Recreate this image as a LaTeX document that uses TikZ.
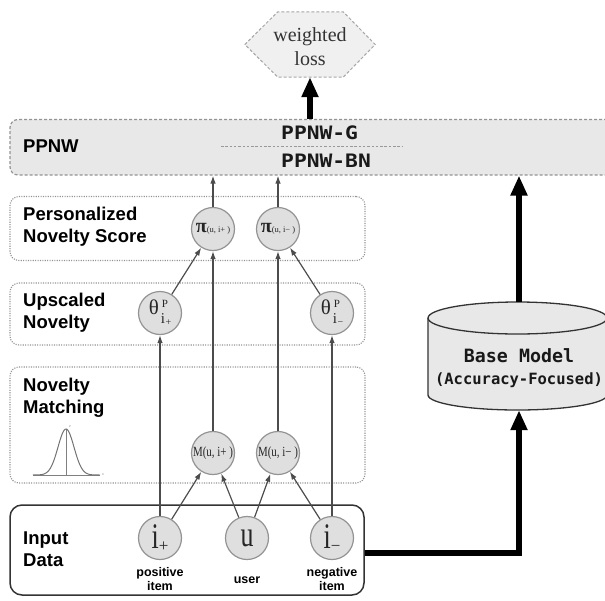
\documentclass[tikz,border=0pt]{standalone}
\usepackage{fontspec}
\setmainfont{Liberation Serif}
\newfontfamily\labfont{Liberation Sans}
\newfontfamily\monofont{DejaVu Sans Mono}
\usetikzlibrary{arrows.meta}

% theta^P_{i+/-} as drawn inside the upscaled-novelty circles
\newcommand\thlabel[1]{{\fontsize{21}{21}\selectfont θ}\hspace{2pt}\raisebox{-1pt}{\begin{tabular}{@{}l@{}}\hspace{1pt}{\fontsize{11}{11}\selectfont P}\\[3pt]{\fontsize{15}{15}\selectfont i}\hspace{0.6pt}\raisebox{-2pt}{\fontsize{10}{10}\selectfont #1}\end{tabular}}}
\newcommand\pilabel[1]{{\fontsize{20}{20}\selectfont\bfseries π}{\fontsize{8.5}{9}\selectfont(u, i#1 )}}
\newcommand\mlabel[1]{\scalebox{0.78}[1]{\fontsize{14}{14}\selectfont M(u, i#1 )}}
\newcommand\inlabel[2]{\scalebox{0.72}[1]{\fontsize{36}{36}\selectfont #1}\raisebox{-3pt}{\fontsize{17}{17}\selectfont #2}}

\begin{document}
\begin{tikzpicture}[x=1pt,y=-1pt,
  layerbox/.style={draw=gray!85, dash pattern=on 1.1pt off 1.3pt, line width=1.1pt,
    rounded corners=9pt, minimum width=355pt, inner sep=0pt},
  ppnwbox/.style={draw=gray!85, fill=gray!18, dash pattern=on 3pt off 2pt,
    line width=1.2pt, rounded corners=8pt, inner sep=0pt},
  inbox/.style={draw=black!80, line width=1.5pt, rounded corners=12pt, inner sep=0pt},
  lab/.style={anchor=west, align=left, inner sep=0pt, text=black,
    font=\labfont\bfseries\fontsize{18.5}{22}\selectfont},
  sublab/.style={align=center, inner sep=0pt, text=black,
    font=\labfont\bfseries\fontsize{12.5}{14}\selectfont},
  nd/.style={circle, draw=gray!85, fill=gray!25, line width=1.2pt,
    minimum size=43pt, inner sep=0pt, text=black!85},
  conn/.style={draw=black!70, line width=1.2pt, -{Latex[length=8pt,width=5.5pt]}},
  thick arrow/.style={draw=black, line width=5.5pt, -{Triangle[length=20pt,width=16pt]}},
  mono/.style={inner sep=0pt, text=black!90}
]
\useasboundingbox (0,0) rectangle (605,600);
\clip (0,0) rectangle (605,600);

% ---- output: weighted loss ----
\node[minimum width=130pt, minimum height=65pt, inner sep=0pt] (loss) at (310,44.5) {};
\draw[draw=gray!70, fill=gray!12, dash pattern=on 3pt off 2pt, line width=1pt]
  (loss.west) -- ([xshift=33pt]loss.north west) -- ([xshift=-32pt]loss.north east)
  -- (loss.east) -- ([xshift=-32pt]loss.south east) -- ([xshift=33pt]loss.south west) -- cycle;
\node[align=center, inner sep=0pt, text=black!80,
  font=\fontsize{20}{24}\selectfont] (losstext) at (310,47) {weighted\\loss};

% ---- PPNW layer ----
\node[ppnwbox, minimum width=615pt, minimum height=55.5pt] (ppnw) at (317.5,147.25) {};
\node[lab] (ppnwlab) at (23,146) {PPNW};
\node[mono, anchor=west, font=\monofont\bfseries\fontsize{18.5}{18.5}\selectfont] (pg) at (281,133) {\scalebox{1.15}[1]{PPNW-G}};
\node[mono, anchor=west, font=\monofont\bfseries\fontsize{18.5}{18.5}\selectfont] (pbn) at (281,161) {\scalebox{1.15}[1]{PPNW-BN}};
\coordinate (sepl) at (221,146);
\coordinate (sepr) at (403,146);
\draw[gray!80, dash pattern=on 2.5pt off 1.8pt, line width=0.9pt] (sepl) -- (sepr);

% ---- layer boxes ----
\node[layerbox, minimum height=64pt] (pns) at (187.5,228.5) {};
\node[layerbox, minimum height=62pt] (upn) at (187.5,314) {};
\node[layerbox, minimum height=116pt] (nm) at (187.5,425) {};
\node[inbox, minimum width=354pt, minimum height=90pt] (input) at (187,550) {};

\node[lab] (pnslab) at (23,227) {Personalized\\Novelty Score};
\node[lab] (upnlab) at (23,313) {Upscaled\\Novelty};
\node[lab] (nmlab) at (23,398) {Novelty\\Matching};
\node[lab] (inlab) at (23,549) {Input\\Data};

% gaussian sketch
\draw[gray, line width=0.8pt] (33,475) -- (100,475);
\draw[gray, line width=0.8pt] (66,429) -- (66,475);
\draw[black!55, line width=1pt] plot[domain=33:100, samples=80]
  (\x, {475 - 46*exp(-((\x-66)^2)/(2*64))});
\node[inner sep=0pt, text=gray, font=\itshape\fontsize{4}{4}\selectfont] (gy) at (70,427) {e};
\node[inner sep=0pt, text=gray, font=\itshape\fontsize{4}{4}\selectfont] (gx) at (103,475) {x};

% ---- nodes ----
\node[nd] (pip) at (213,229) {\pilabel{+}};
\node[nd] (pim) at (278,229) {\pilabel{−}};
\node[nd] (thp) at (160,313) {\thlabel{+}};
\node[nd] (thm) at (332,313) {\thlabel{−}};
\node[nd] (mp) at (213,453) {\mlabel{+}};
\node[nd] (mm) at (278,453) {\mlabel{−}};
\node[nd] (ip) at (160,538) {\inlabel{i}{+}};
\node[nd] (us) at (247,538) {\scalebox{0.72}[1]{\fontsize{36}{36}\selectfont u}};
\node[nd] (im) at (332,538) {\inlabel{i}{−}};

\node[sublab] (iplab) at (160,579) {positive\\item};
\node[sublab] (uslab) at (247,580) {user};
\node[sublab] (imlab) at (332,579) {negative\\item};

% ---- base model cylinder ----
\node[inner sep=0pt, minimum width=179pt, minimum height=108pt] (base) at (519,356) {};
\fill[gray!18] (428,318) -- (428,395) arc[start angle=180, end angle=360, x radius=89.5pt, y radius=15pt]
  -- (607,318) arc[start angle=0, end angle=180, x radius=89.5pt, y radius=16pt] -- cycle;
\draw[black!80, line width=1.3pt] (428,318) -- (428,395) arc[start angle=180, end angle=360, x radius=89.5pt, y radius=15pt] -- (607,318);
\draw[black!80, line width=1.3pt] (517.5,318) ellipse[x radius=89.5pt, y radius=16pt];
\node[mono, font=\monofont\bfseries\fontsize{18.3}{18.3}\selectfont] (basetxt) at (519,356) {Base Model};
\node[mono, font=\monofont\bfseries\fontsize{15.5}{15.5}\selectfont] (basesub) at (519,380) {(Accuracy-Focused)};

% ---- connectors ----
\draw[conn] (ip) -- (thp);
\draw[conn] (ip) -- (mp);
\draw[conn] (us) -- (mp);
\draw[conn] (us) -- (mm);
\draw[conn] (im) -- (mm);
\draw[conn] (im) -- (thm);
\draw[conn] (thp) -- (pip);
\draw[conn] (mp) -- (pip);
\draw[conn] (mm) -- (pim);
\draw[conn] (thm) -- (pim);
\draw[conn] (pip) -- (pip |- ppnw.south);
\draw[conn] (pim) -- (pim |- ppnw.south);

\draw[thick arrow] ([yshift=-3pt]input.east) -| (base.south);
\draw[thick arrow] (base.north) -- (base.north |- ppnw.south);
\draw[thick arrow] (loss.south |- ppnw.north) -- (loss.south);
\end{tikzpicture}
\end{document}
